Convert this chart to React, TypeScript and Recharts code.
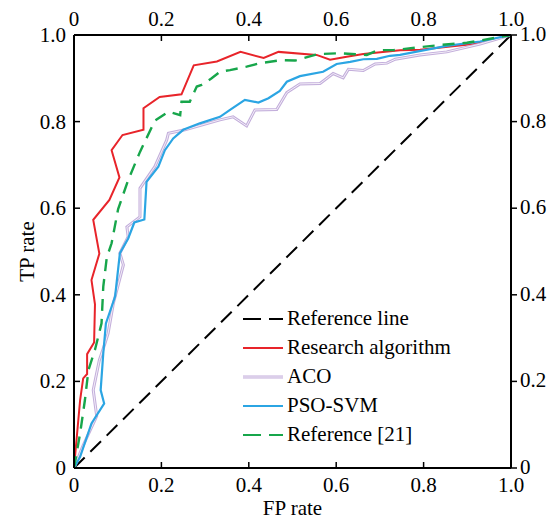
import React from "react";
import { LineChart, Line, XAxis, YAxis, Legend } from "recharts";

// ROC curves (FP rate -> TP rate)
const refFp = [0, 1];
const refTp = [0, 1];

const researchFp = [0, 0.014, 0.021, 0.03, 0.03, 0.046, 0.048, 0.04, 0.058, 0.044, 0.081, 0.104, 0.086, 0.111, 0.159, 0.159, 0.196, 0.246, 0.274, 0.327, 0.381, 0.434, 0.468, 0.555, 0.586, 0.624, 0.662, 0.746, 0.792, 0.914, 1];
const researchTp = [0, 0.157, 0.207, 0.217, 0.263, 0.29, 0.378, 0.434, 0.495, 0.573, 0.619, 0.671, 0.734, 0.769, 0.781, 0.831, 0.857, 0.863, 0.93, 0.939, 0.961, 0.947, 0.961, 0.954, 0.943, 0.95, 0.956, 0.965, 0.966, 0.979, 1];

const acoFp = [0, 0.02, 0.052, 0.044, 0.058, 0.071, 0.078, 0.09, 0.113, 0.105, 0.124, 0.121, 0.151, 0.151, 0.185, 0.212, 0.216, 0.254, 0.334, 0.364, 0.395, 0.414, 0.464, 0.487, 0.517, 0.563, 0.593, 0.616, 0.628, 0.662, 0.689, 0.716, 0.735, 0.792, 0.853, 0.929, 1];
const acoTp = [0, 0.05, 0.12, 0.18, 0.249, 0.288, 0.311, 0.38, 0.469, 0.496, 0.534, 0.557, 0.58, 0.646, 0.696, 0.757, 0.773, 0.781, 0.804, 0.811, 0.79, 0.827, 0.828, 0.867, 0.887, 0.888, 0.911, 0.901, 0.921, 0.918, 0.933, 0.935, 0.944, 0.954, 0.961, 0.979, 1];

const psoFp = [0, 0.014, 0.04, 0.069, 0.061, 0.067, 0.073, 0.094, 0.105, 0.124, 0.138, 0.161, 0.166, 0.193, 0.208, 0.227, 0.25, 0.288, 0.334, 0.357, 0.391, 0.422, 0.445, 0.471, 0.487, 0.517, 0.57, 0.601, 0.632, 0.662, 0.693, 0.723, 0.746, 0.853, 0.929, 1];
const psoTp = [0, 0.026, 0.103, 0.149, 0.18, 0.265, 0.334, 0.396, 0.496, 0.53, 0.567, 0.574, 0.661, 0.696, 0.734, 0.761, 0.781, 0.796, 0.811, 0.827, 0.85, 0.844, 0.854, 0.871, 0.892, 0.905, 0.915, 0.933, 0.938, 0.944, 0.945, 0.952, 0.954, 0.975, 0.985, 1];

const ref21Fp = [0, 0.014, 0.025, 0.033, 0.048, 0.063, 0.067, 0.075, 0.086, 0.101, 0.124, 0.151, 0.185, 0.216, 0.243, 0.246, 0.265, 0.281, 0.292, 0.315, 0.334, 0.357, 0.395, 0.426, 0.475, 0.506, 0.559, 0.609, 0.67, 0.696, 0.731, 0.838, 0.899, 1];
const ref21Tp = [0, 0.08, 0.157, 0.226, 0.273, 0.334, 0.419, 0.486, 0.519, 0.598, 0.665, 0.73, 0.802, 0.823, 0.815, 0.846, 0.846, 0.881, 0.885, 0.9, 0.915, 0.919, 0.927, 0.935, 0.942, 0.941, 0.956, 0.958, 0.954, 0.965, 0.965, 0.977, 0.982, 1];

const ticks = [0, 0.2, 0.4, 0.6, 0.8, 1];

const toPoints = (fp: number[], tp: number[]) => fp.map((x, i) => ({ fp: x, tp: tp[i] }));

const FONT = "'Liberation Serif', 'Times New Roman', serif";
const FS = 21;

const fmt = (v: number) => (v === 0 ? "0" : v.toFixed(1));

const series = [
    { name: "Reference line", color: "#000000", dash: "18 8" },
    { name: "Research algorithm", color: "#e8242a" },
    { name: "ACO", color: "#c3aedb" },
    { name: "PSO-SVM", color: "#2ba5e3" },
    { name: "Reference [21]", color: "#17a64b", dash: "18 8" },
];

// tick renderers: label + short tick mark
const LeftTick = ({ x, y, payload }: any) => (
    <g>
        <line x1={x + 8} x2={x + 14} y1={y} y2={y} stroke="#000" strokeWidth={1.5} />
        <text x={x} y={y + 7} textAnchor="end" fontSize={FS} fontFamily={FONT} fill="#000">{fmt(payload.value)}</text>
    </g>
);
const RightTick = ({ x, y, payload }: any) => (
    <g>
        <line x1={x - 8} x2={x - 2} y1={y} y2={y} stroke="#000" strokeWidth={1.5} />
        <text x={x + 1} y={y + 6} textAnchor="start" fontSize={FS} fontFamily={FONT} fill="#000">{fmt(payload.value)}</text>
    </g>
);
const BottomTick = ({ x, y, payload }: any) => (
    <g>
        <line x1={x} x2={x} y1={y - 8} y2={y - 14} stroke="#000" strokeWidth={1.5} />
        <text x={x} y={y + 16} textAnchor="middle" fontSize={FS} fontFamily={FONT} fill="#000">{fmt(payload.value)}</text>
    </g>
);
const TopTick = ({ x, y, payload }: any) => (
    <g>
        <line x1={x} x2={x} y1={y + 8} y2={y + 14} stroke="#000" strokeWidth={1.5} />
        <text x={x} y={y - 1} textAnchor="middle" fontSize={FS} fontFamily={FONT} fill="#000">{fmt(payload.value)}</text>
    </g>
);

const YTitle = (props: any) => {
    const vb = props.viewBox || { y: 35, height: 433 };
    const cy = vb.y + vb.height / 2;
    return (
        <text x={27} y={cy} transform={`rotate(-90, 27, ${cy})`} textAnchor="middle" dominantBaseline="central" fontSize={FS} fontFamily={FONT} fill="#000">
            TP rate
        </text>
    );
};

const XTitle = (props: any) => {
    const vb = props.viewBox || { x: 74, width: 437 };
    const cx = vb.x + vb.width / 2;
    return (
        <text x={cx} y={515} textAnchor="middle" fontSize={FS} fontFamily={FONT} fill="#000">
            FP rate
        </text>
    );
};

const LegendBox = () => (
    <div style={{ fontFamily: FONT, fontSize: FS, color: "#000", lineHeight: "29px" }}>
        {series.map((s) => (
            <div key={s.name} style={{ display: "flex", alignItems: "center", height: 29, whiteSpace: "nowrap" }}>
                <svg width={44} height={10} style={{ flex: "none" }}>
                    <line x1={0} x2={40} y1={5} y2={5} stroke={s.color} strokeWidth={s.name === "ACO" ? 3 : 2.2} strokeDasharray={s.dash} />
                    {s.name === "ACO" && <line x1={0} x2={40} y1={5} y2={5} stroke="#f3eef8" strokeWidth={1} />}
                </svg>
                <span>{s.name}</span>
            </div>
        ))}
    </div>
);

export default function App() {
    return (
        <div style={{ position: "absolute", left: 0, top: 0, background: "#fff" }}>
            <LineChart width={551} height={522} margin={{ top: 10, right: 10, bottom: 6, left: 10 }}>
                <XAxis
                    xAxisId="bottom"
                    type="number"
                    dataKey="fp"
                    domain={[0, 1]}
                    ticks={ticks}
                    height={48}
                    tickSize={0}
                    tickMargin={8}
                    tickLine={false}
                    axisLine={{ stroke: "#000", strokeWidth: 2 }}
                    tick={<BottomTick />}
                    label={<XTitle />}
                    allowDataOverflow
                />
                <XAxis
                    xAxisId="top"
                    orientation="top"
                    type="number"
                    dataKey="fp"
                    domain={[0, 1]}
                    ticks={ticks}
                    height={25}
                    tickSize={0}
                    tickMargin={8}
                    tickLine={false}
                    axisLine={{ stroke: "#000", strokeWidth: 2 }}
                    tick={<TopTick />}
                    allowDataOverflow
                />
                <YAxis
                    yAxisId="left"
                    type="number"
                    dataKey="tp"
                    domain={[0, 1]}
                    ticks={ticks}
                    width={64}
                    tickSize={0}
                    tickMargin={8}
                    tickLine={false}
                    axisLine={{ stroke: "#000", strokeWidth: 2 }}
                    tick={<LeftTick />}
                    label={<YTitle />}
                    allowDataOverflow
                />
                <YAxis
                    yAxisId="right"
                    orientation="right"
                    type="number"
                    dataKey="tp"
                    domain={[0, 1]}
                    ticks={ticks}
                    width={30}
                    tickSize={0}
                    tickMargin={8}
                    tickLine={false}
                    axisLine={{ stroke: "#000", strokeWidth: 2 }}
                    tick={<RightTick />}
                    allowDataOverflow
                />
                <Legend
                    layout="vertical"
                    align="center"
                    verticalAlign="middle"
                    wrapperStyle={{ left: 243, top: 304, width: 270 }}
                    content={<LegendBox />}
                />
                <Line xAxisId="bottom" yAxisId="left" data={toPoints(refFp, refTp)} dataKey="tp" name="Reference line"
                    stroke="#000" strokeWidth={2} strokeDasharray="15 8" dot={false} activeDot={false} isAnimationActive={false} />
                <Line xAxisId="bottom" yAxisId="left" data={toPoints(researchFp, researchTp)} dataKey="tp" name="Research algorithm"
                    stroke="#e8242a" strokeWidth={2} dot={false} activeDot={false} isAnimationActive={false} />
                <Line xAxisId="bottom" yAxisId="left" data={toPoints(acoFp, acoTp)} dataKey="tp" name="ACO"
                    stroke="#c3aedb" strokeWidth={3} dot={false} activeDot={false} isAnimationActive={false} />
                <Line xAxisId="bottom" yAxisId="left" data={toPoints(acoFp, acoTp)} dataKey="tp" name="ACO inner" legendType="none"
                    stroke="#f3eef8" strokeWidth={1} dot={false} activeDot={false} isAnimationActive={false} />
                <Line xAxisId="bottom" yAxisId="left" data={toPoints(psoFp, psoTp)} dataKey="tp" name="PSO-SVM"
                    stroke="#2ba5e3" strokeWidth={2.2} dot={false} activeDot={false} isAnimationActive={false} />
                <Line xAxisId="bottom" yAxisId="left" data={toPoints(ref21Fp, ref21Tp)} dataKey="tp" name="Reference [21]"
                    stroke="#17a64b" strokeWidth={2.4} strokeDasharray="12 8" dot={false} activeDot={false} isAnimationActive={false} />
            </LineChart>
        </div>
    );
}
